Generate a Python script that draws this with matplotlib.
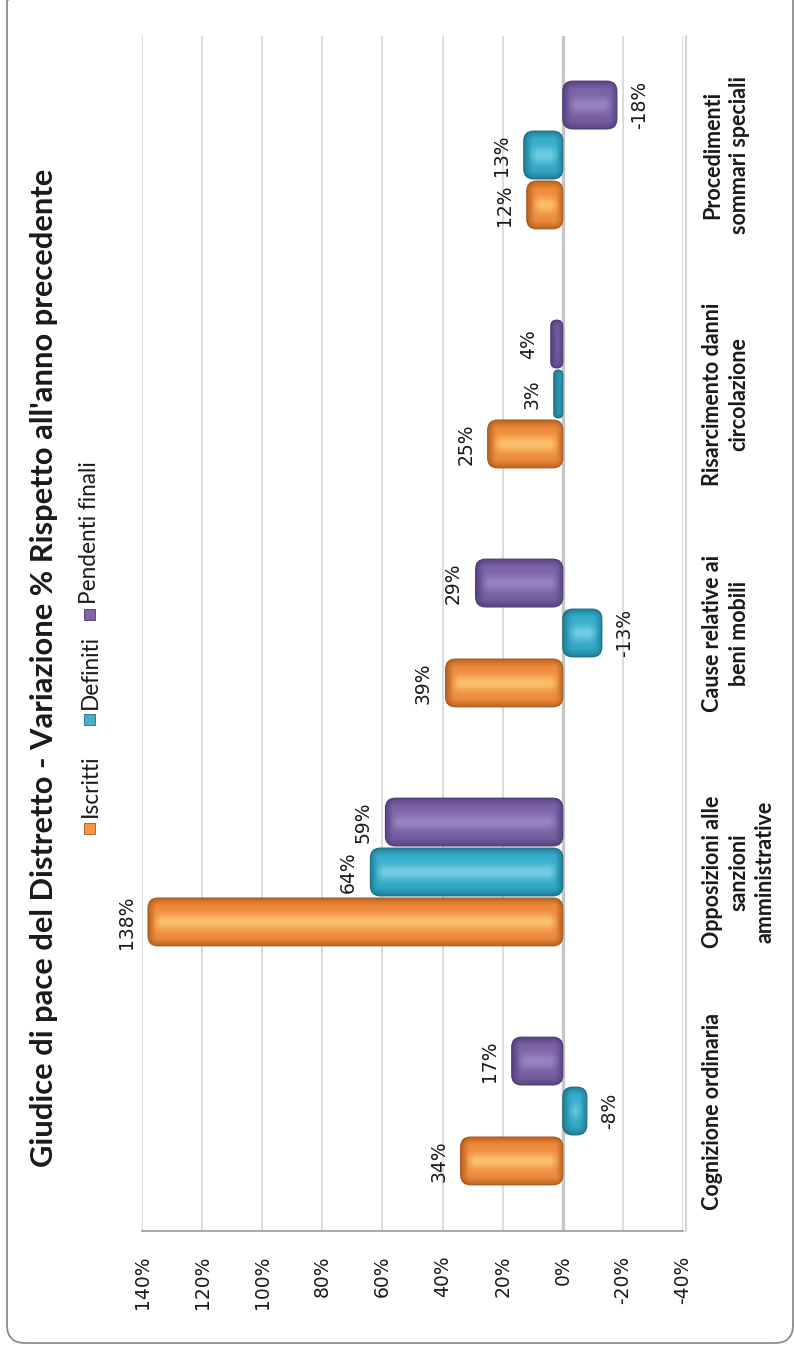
import numpy as np
import matplotlib
matplotlib.use("Agg")
import matplotlib.pyplot as plt
from matplotlib.patches import FancyBboxPatch, Rectangle
from matplotlib.transforms import IdentityTransform

# ---------------- data ----------------
categories = ["Cognizione ordinaria",
              "Opposizioni alle\nsanzioni\namministrative",
              "Cause relative ai\nbeni mobili",
              "Risarcimento danni\ncircolazione",
              "Procedimenti\nsommari speciali"]
series_names = ["Iscritti", "Definiti", "Pendenti finali"]
iscritti = [34, 138, 39, 25, 12]
definiti = [-8, 64, -13, 3, 13]
pendenti = [17, 59, 29, 4, -18]
value_ticks = [-40, -20, 0, 20, 40, 60, 80, 100, 120, 140]
title = "Giudice di pace del Distretto - Variazione % Rispetto all'anno precedente"

# ---------------- styles ----------------
palettes = [
    dict(dark="#b5601e", top="#f08a3a", bottom="#ea8a3d", light="#ffd27c", edge="#a65a22", mark="#f79646"),
    dict(dark="#1d7a91", top="#36afcc", bottom="#2fa3bf", light="#86d9ee", edge="#1b6e83", mark="#4bacc6"),
    dict(dark="#544080", top="#7c64a7", bottom="#735b9c", light="#a390c8", edge="#4c3a72", mark="#8064a2"),
]

W, H = 794, 1350
fig = plt.figure(figsize=(W / 100, H / 100), dpi=100)
fig.patch.set_facecolor("white")

ax_left, ax_right, ax_top, ax_bottom = 142, 683, 35.5, 1230.5
ax = fig.add_axes([ax_left / W, 1 - ax_bottom / H,
                   (ax_right - ax_left) / W, (ax_bottom - ax_top) / H])
XMIN, XMAX = value_ticks[0], value_ticks[-1]
px_per_x = (ax_right - ax_left) / (XMAX - XMIN)
px_per_y = (ax_bottom - ax_top) / len(categories)


def hex2rgb(h):
    return np.array(matplotlib.colors.to_rgb(h))


def shade_bar(ax, value, yc, h, pal, z=3):
    xa, xb = min(0, value), max(0, value)
    Lpx = (xb - xa) * px_per_x
    Tpx = h * px_per_y
    r_px = min(10.0, Lpx / 2, Tpx / 2)
    r = r_px / px_per_x
    aspect = px_per_x / px_per_y
    patch = FancyBboxPatch((xa, yc - h / 2), xb - xa, h,
                           boxstyle=f"round,pad=0,rounding_size={r}",
                           mutation_aspect=aspect, facecolor="none",
                           edgecolor=pal["edge"], linewidth=0.8, zorder=z + 1)
    ax.add_patch(patch)
    nx = max(int(np.ceil(Lpx)) * 2, 4)
    ny = int(np.ceil(Tpx)) * 2
    u = (np.arange(nx) + 0.5) / nx * Lpx - Lpx / 2
    v = (np.arange(ny) + 0.5) / ny * Tpx - Tpx / 2
    U, V = np.meshgrid(u, v)
    qx = np.abs(U) - (Lpx / 2 - r_px)
    qy = np.abs(V) - (Tpx / 2 - r_px)
    sd = np.hypot(np.maximum(qx, 0), np.maximum(qy, 0)) + np.minimum(np.maximum(qx, qy), 0) - r_px
    depth = np.clip(-sd, 0, None)
    dark = hex2rgb(pal["dark"])
    top = hex2rgb(pal["top"])
    bottom = hex2rgb(pal["bottom"])
    light = hex2rgb(pal["light"])
    t = (V / Tpx + 0.5)[..., None]
    base = bottom * (1 - t) + top * t
    s1 = (np.clip(depth / 8.0, 0, 1) ** 0.8)[..., None]
    col = dark + (base - dark) * s1
    hl = 0.75 * np.exp(-(V / (Tpx * 0.17)) ** 2) * np.clip((depth - 4) / 9.0, 0, 1)
    col = col + (light - col) * hl[..., None]
    im = ax.imshow(col, extent=(xa, xb, yc - h / 2, yc + h / 2), origin="lower",
                   aspect="auto", interpolation="bilinear", zorder=z)
    im.set_clip_path(patch)


series = [iscritti, definiti, pendenti]
offsets = [-0.209, 0.0, 0.209]
bar_h = 0.2
for s_idx, vals in enumerate(series):
    for c_idx, v in enumerate(vals):
        yc = c_idx + offsets[s_idx]
        shade_bar(ax, v, yc, bar_h, palettes[s_idx])
        ax.annotate(f"{v}%", xy=(v, yc), xytext=(-22 if v > 0 else 23, 0),
                    textcoords="offset pixels", rotation=90, ha="center", va="center",
                    fontsize=13.5, family="DejaVu Sans", color="#1a1a1a", zorder=6)

ax.set_xlim(XMAX, XMIN)
ax.set_ylim(-0.5, len(categories) - 0.5)
ax.set_xticks(value_ticks)
ax.set_xticklabels([f"{t}%" for t in value_ticks])
ax.set_yticks([])
ax.tick_params(axis="x", length=0, pad=18, labelsize=13.5, labelrotation=90,
               labelcolor="#1a1a1a")
ax.xaxis.grid(True, color="#d9d9d9", linewidth=1.3)
ax.set_axisbelow(True)
ax.axvline(0, color="#c6c6c6", linewidth=2.4, zorder=1.5)
for side in ["top", "left"]:
    ax.spines[side].set_visible(False)
ax.spines["bottom"].set_color("#a0a0a0")
ax.spines["bottom"].set_linewidth(1.3)
ax.spines["right"].set_color("#d0d0d0")
ax.spines["right"].set_linewidth(1.3)
ax.spines["right"].set_position(("outward", 2))
ax.set_facecolor("none")

# category labels on the right
for c_idx, cat in enumerate(categories):
    ax.text(1.036, c_idx, cat, transform=ax.get_yaxis_transform(), rotation=90,
            ha="left", va="center", multialignment="center", fontsize=15.5,
            fontweight="bold", family="Lato", color="#1a1a1a", linespacing=1.3)

# title
fig.text(44 / W, 1 - 668 / H, title, rotation=90, ha="center", va="center",
         fontsize=22.2, fontweight="bold", family="Lato", color="#1a1a1a")

# legend (rotated, drawn manually)
leg_marker_y = [828, 719, 614]
leg_text_y = [817, 709, 604]
for i, name in enumerate(series_names):
    ms = 11
    fig.add_artist(Rectangle(((89 - ms / 2) / W, 1 - (leg_marker_y[i] + ms / 2) / H),
                             ms / W, ms / H, transform=fig.transFigure,
                             facecolor=palettes[i]["mark"], edgecolor=palettes[i]["edge"],
                             linewidth=0.6))
    fig.text(90 / W, 1 - leg_text_y[i] / H, name, rotation=90, ha="center", va="bottom",
             fontsize=16.3, family="Lato", color="#1a1a1a")

# outer rounded border
border = FancyBboxPatch((7, 7), 786, 1360, boxstyle="round,pad=0,rounding_size=18",
                        transform=IdentityTransform(), fill=False,
                        edgecolor="#8c8c8c", linewidth=1.3)
fig.add_artist(border)

fig.savefig("out.png", dpi=100)
